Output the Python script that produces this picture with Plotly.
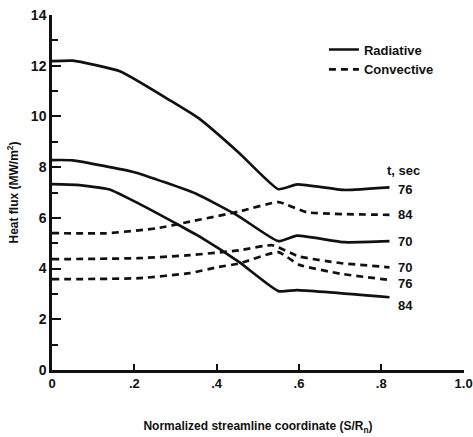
import plotly.graph_objects as go

# Normalized streamline coordinate S/Rn
x_rad_76 = [0.0, 0.05, 0.165, 0.29, 0.357, 0.456, 0.55, 0.596, 0.71, 0.82]
rad_76 = [12.18, 12.2, 11.78, 10.6, 9.92, 8.54, 7.13, 7.32, 7.1, 7.2]

x_rad_70 = [0.0, 0.05, 0.2, 0.35, 0.45, 0.55, 0.595, 0.71, 0.82]
rad_70 = [8.28, 8.27, 7.8, 6.95, 6.1, 5.08, 5.3, 5.04, 5.08]

x_rad_84 = [0.0, 0.06, 0.14, 0.21, 0.31, 0.36, 0.455, 0.55, 0.595, 0.82]
rad_84 = [7.33, 7.3, 7.12, 6.57, 5.7, 5.25, 4.25, 3.11, 3.15, 2.87]

x_conv_84 = [0.0, 0.13, 0.255, 0.335, 0.455, 0.55, 0.62, 0.82]
conv_84 = [5.4, 5.39, 5.59, 5.85, 6.25, 6.62, 6.22, 6.12]

x_conv_70 = [0.0, 0.21, 0.335, 0.455, 0.535, 0.6, 0.7, 0.82]
conv_70 = [4.37, 4.41, 4.53, 4.72, 4.92, 4.48, 4.22, 4.05]

x_conv_76 = [0.0, 0.21, 0.335, 0.4, 0.455, 0.55, 0.6, 0.7, 0.82]
conv_76 = [3.58, 3.62, 3.82, 4.05, 4.2, 4.65, 4.15, 3.8, 3.55]

x_ticks = [0, 0.2, 0.4, 0.6, 0.8, 1.0]
x_tick_text = ["0", ".2", ".4", ".6", ".8", "1.0"]
y_ticks = [0, 2, 4, 6, 8, 10, 12, 14]

FONT = "Liberation Sans, Arial, sans-serif"
BLACK = "#111111"

series = [
    ("76", x_rad_76, rad_76, "solid", -2),
    ("70", x_rad_70, rad_70, "solid", 0),
    ("84", x_rad_84, rad_84, "solid", -8),
    ("84", x_conv_84, conv_84, "dash", 0),
    ("70", x_conv_70, conv_70, "dash", 0),
    ("76", x_conv_76, conv_76, "dash", -4),
]

fig = go.Figure()

for t, xs, ys, style, _ in series:
    fig.add_trace(go.Scatter(
        x=xs, y=ys, mode="lines",
        line=dict(color=BLACK, width=2.7, shape="spline", smoothing=0.45,
                  dash="solid" if style == "solid" else "7px,5px"),
        showlegend=False, hoverinfo="skip",
    ))

# Legend entries
fig.add_trace(go.Scatter(x=[None], y=[None], mode="lines", name="Radiative",
                         line=dict(color=BLACK, width=2.7)))
fig.add_trace(go.Scatter(x=[None], y=[None], mode="lines", name="Convective",
                         line=dict(color=BLACK, width=2.7, dash="7px,5px")))

# End labels (time in seconds)
for t, xs, ys, style, shift in series:
    fig.add_annotation(x=xs[-1], y=ys[-1], text=f"<b>{t}</b>", showarrow=False,
                       xanchor="left", yanchor="middle", xshift=6, yshift=shift,
                       font=dict(family=FONT, size=13, color=BLACK))

fig.add_annotation(x=0.81, y=7.87, text="<b>t, sec</b>", showarrow=False,
                   xanchor="left", yanchor="middle",
                   font=dict(family=FONT, size=13, color=BLACK))

fig.update_layout(
    width=473, height=437,
    margin=dict(l=52, r=9, t=15, b=67),
    paper_bgcolor="white", plot_bgcolor="white",
    font=dict(family=FONT, size=13, color=BLACK),
    legend=dict(x=0.66, y=0.945, xanchor="left", yanchor="top",
                bgcolor="rgba(0,0,0,0)", font=dict(family=FONT, size=13, weight="bold"),
                tracegroupgap=0, itemwidth=30),
    xaxis=dict(
        range=[0, 1.001], tickvals=x_ticks, ticktext=x_tick_text, automargin=False,
        showgrid=False, zeroline=False, showline=True, linecolor=BLACK, linewidth=2.5,
        ticks="inside", ticklen=6, tickwidth=1.5, tickcolor=BLACK,
        tickfont=dict(family=FONT, size=13, weight="bold"),
        title=dict(text="<b>Normalized streamline coordinate (S/R<sub>n</sub>)</b>",
                   font=dict(family=FONT, size=12), standoff=32),
    ),
    yaxis=dict(
        range=[0, 14], tickvals=y_ticks, automargin=False,
        showgrid=False, zeroline=False, showline=True, linecolor=BLACK, linewidth=2.5,
        ticks="inside", ticklen=9, tickwidth=1.5, tickcolor=BLACK,
        minor=dict(dtick=1, ticks="inside", ticklen=6, tickwidth=1.5, tickcolor=BLACK),
        tickfont=dict(family=FONT, size=14, weight="bold"),
        title=dict(text="<b>Heat flux (MW/m<sup>2</sup>)</b>",
                   font=dict(family=FONT, size=12), standoff=10),
    ),
)

fig.write_html("out.html")
